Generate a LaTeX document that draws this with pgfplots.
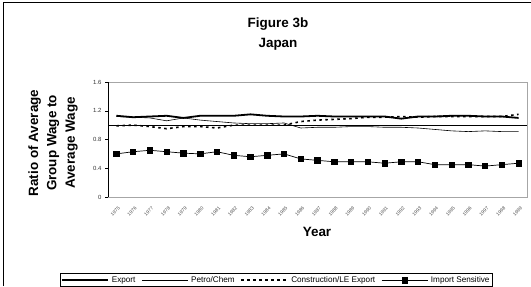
\documentclass[border=0pt]{standalone}
\usepackage{pgfplots}
\pgfplotsset{compat=1.18}
\usepackage{fontspec}
\setmainfont{Liberation Sans}
\begin{document}
\begin{tikzpicture}[x=1bp,y=1bp]
\path[use as bounding box] (0,0) rectangle (531,286);
\draw[line width=1bp] (3,0) -- (3,283) -- (531,283);
\node[font=\bfseries\fontsize{13.5}{16}\selectfont] at (278,262) {Figure 3b};
\node[font=\bfseries\fontsize{13.5}{16}\selectfont] at (278,242) {Japan};
\node[font=\bfseries\fontsize{13.5}{18.5}\selectfont, rotate=90, align=center] at (53,143) {Ratio of Average\\Group Wage to\\Average Wage};
\node[font=\bfseries\fontsize{13.5}{16}\selectfont] at (317,54) {Year};
\begin{axis}[
  at={(108bp,89bp)}, anchor=south west,
  width=419bp, height=115bp, scale only axis,
  xmin=-0.5, xmax=24.5, ymin=0, ymax=1.6,
  ytick={0,0.4,...,1.6}, ytick pos=left,
  yticklabel style={font=\fontsize{6}{7}\selectfont, text=black!80},
  y tick label style={/pgf/number format/fixed},
  /pgf/number format/assume math mode=true,
  xtick={0,...,24},
  xticklabels={1975,1976,1977,1978,1979,1980,1981,1982,1983,1984,1985,1986,1987,1988,1989,1990,1991,1992,1993,1994,1995,1996,1997,1998,1999},
  xticklabel style={font=\fontsize{4.8}{5}\selectfont, text=black!70, rotate=45, anchor=north east, yshift=-2bp},
  x tick style={draw=none},
  y tick style={black, line width=0.5bp},
  tick align=outside, major tick length=3bp,
  axis line style={draw=black!35, line width=0.6bp},
  legend columns=4,
  legend style={at={(-0.1146,-0.665)}, anchor=north west, draw=black, line width=0.6bp,
    font=\fontsize{8.2}{8.5}\selectfont, inner sep=0.8bp, row sep=0bp,
    /tikz/every even column/.append style={column sep=4bp},
    /tikz/every odd column/.append style={column sep=1bp}},
  legend image code/.code={\draw[#1, mark repeat=2, mark phase=2] plot coordinates {(0bp,0bp) (23bp,0bp) (46bp,0bp)};},
  clip=false,
]
\addplot[black, line width=1.8bp] coordinates {
(0,1.13)(1,1.11)(2,1.12)(3,1.13)(4,1.10)(5,1.13)(6,1.13)(7,1.13)(8,1.15)(9,1.13)(10,1.12)(11,1.12)(12,1.13)(13,1.12)(14,1.12)(15,1.12)(16,1.12)(17,1.09)(18,1.12)(19,1.12)(20,1.13)(21,1.13)(22,1.12)(23,1.12)(24,1.10)};
\addlegendentry{Export}
\addplot[black, line width=0.6bp] coordinates {
(0,1.12)(1,1.11)(2,1.10)(3,1.06)(4,1.10)(5,1.07)(6,1.05)(7,1.03)(8,1.02)(9,1.02)(10,1.03)(11,0.96)(12,0.97)(13,0.97)(14,0.98)(15,0.98)(16,0.97)(17,0.97)(18,0.96)(19,0.94)(20,0.92)(21,0.91)(22,0.92)(23,0.91)(24,0.91)};
\addlegendentry{Petro/Chem}
\addplot[black, line width=1.6bp, dash pattern=on 2.5bp off 3.5bp] coordinates {
(0,0.99)(1,1.00)(2,0.98)(3,0.95)(4,0.98)(5,0.98)(6,0.96)(7,1.00)(8,1.00)(9,1.00)(10,1.00)(11,1.05)(12,1.07)(13,1.08)(14,1.09)(15,1.11)(16,1.11)(17,1.12)(18,1.11)(19,1.12)(20,1.12)(21,1.12)(22,1.12)(23,1.12)(24,1.15)};
\addlegendentry{Construction/LE Export}
\addplot[black, line width=0.7bp, mark=square*, mark size=2.7bp, mark options={solid}] coordinates {
(0,0.60)(1,0.63)(2,0.65)(3,0.63)(4,0.61)(5,0.60)(6,0.63)(7,0.58)(8,0.56)(9,0.58)(10,0.60)(11,0.53)(12,0.51)(13,0.49)(14,0.49)(15,0.49)(16,0.47)(17,0.49)(18,0.49)(19,0.45)(20,0.45)(21,0.45)(22,0.43)(23,0.45)(24,0.47)};
\addlegendentry{Import Sensitive}
\addplot[black, line width=0.6bp, forget plot] coordinates {(-0.5,1)(24.5,1)};
\draw[black, line width=0.7bp] (axis cs:-0.5,0) -- (axis cs:-0.5,1.6);
\end{axis}
\end{tikzpicture}
\end{document}
